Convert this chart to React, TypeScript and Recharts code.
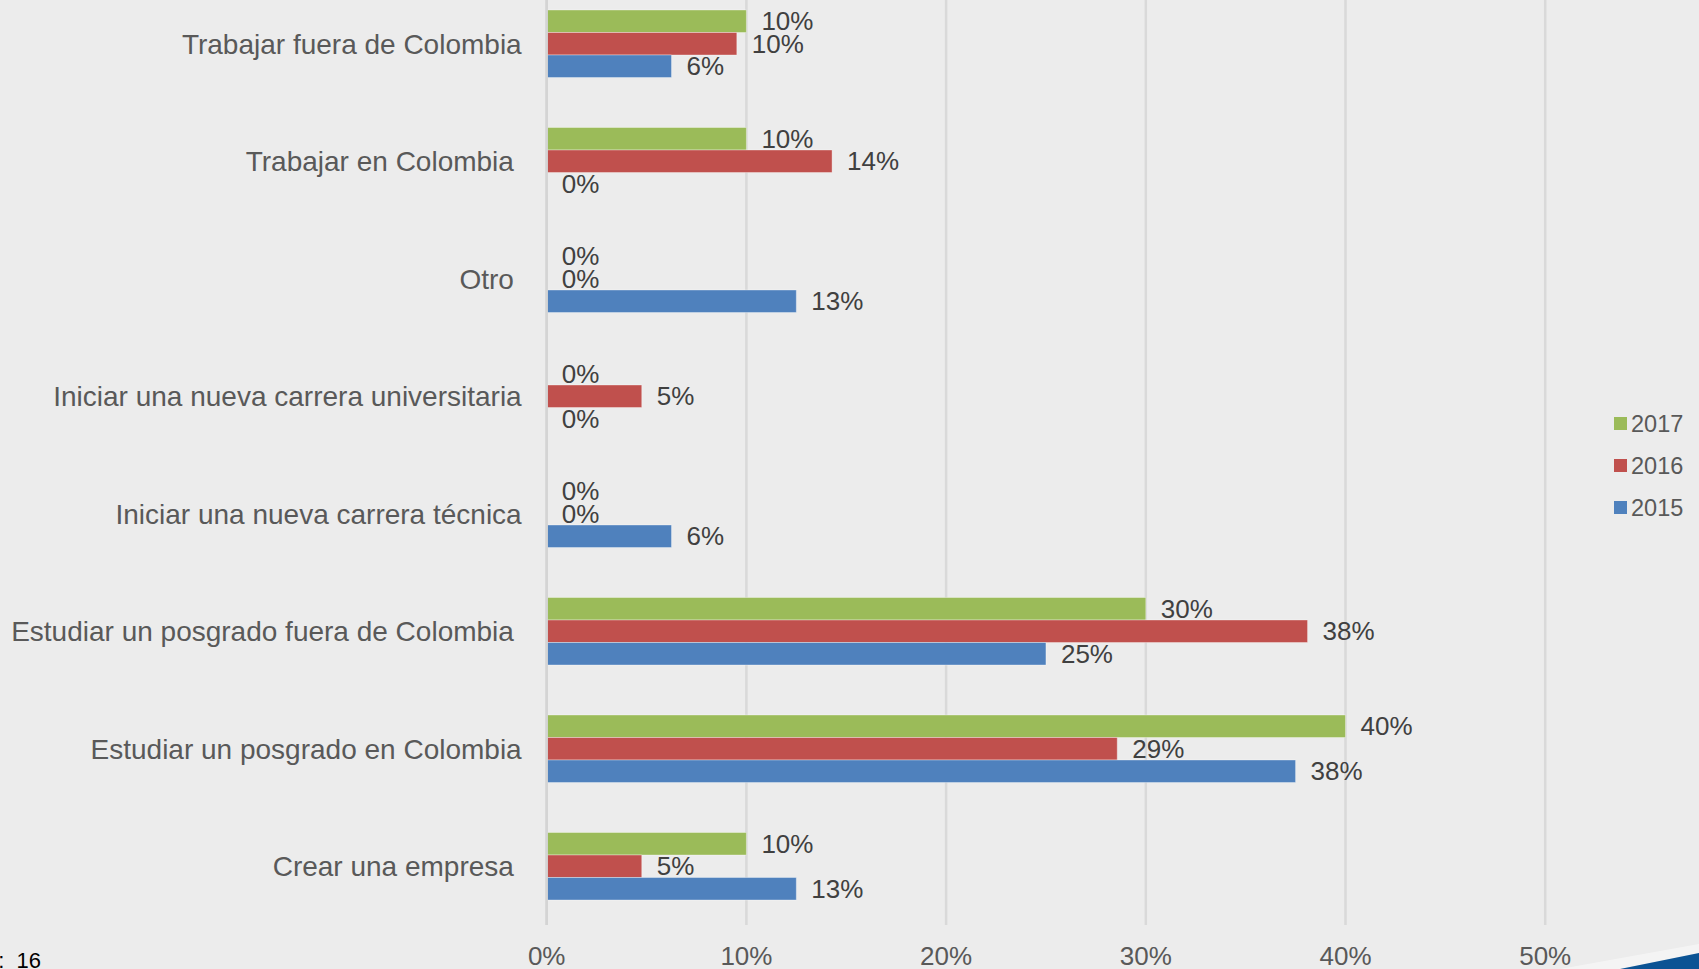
import React from 'react';
import { BarChart, Bar, XAxis, YAxis, CartesianGrid, LabelList, Legend } from 'recharts';

const categories = [
  'Trabajar fuera de Colombia',
  'Trabajar en Colombia\u00A0',
  'Otro\u00A0',
  'Iniciar una nueva carrera universitaria',
  'Iniciar una nueva carrera técnica',
  'Estudiar un posgrado fuera de Colombia\u00A0',
  'Estudiar un posgrado en Colombia',
  'Crear una empresa\u00A0',
];
const values2017 = [10, 10, 0, 0, 0, 30, 40, 10];
const values2016 = [9.52, 14.29, 0, 4.76, 0, 38.1, 28.57, 4.76];
const values2015 = [6.25, 0, 12.5, 0, 6.25, 25, 37.5, 12.5];
const xTicks = [0, 10, 20, 30, 40, 50];
const seriesNames = ['2017', '2016', '2015'];
const seriesColors = ['#9BBB59', '#C0504D', '#4F81BD'];
const footnote = ':\u00A0\u00A016';

const data = categories.map((name, i) => ({
  name,
  y2017: values2017[i],
  y2016: values2016[i],
  y2015: values2015[i],
}));

const FONT = '"Liberation Sans", Arial, Helvetica, sans-serif';

const fmt = (v: any) => `${Math.round(Number(v))}%`;

const renderLegend = () => (
  <div style={{ fontFamily: FONT }}>
    {seriesNames.map((n, i) => (
      <div key={n} style={{ height: 42, display: 'flex', alignItems: 'center' }}>
        <div style={{ width: 13, height: 13, background: seriesColors[i], marginRight: 4 }} />
        <span style={{ fontSize: 23.5, color: '#595959', lineHeight: '42px' }}>{n}</span>
      </div>
    ))}
  </div>
);

export default function App() {
  return (
    <div style={{ position: 'absolute', left: 0, top: 0, width: 1699, height: 969, overflow: 'hidden', background: '#ECECEC' }}>
      <div style={{ position: 'absolute', left: 0, top: -15 }}>
        <BarChart
          width={1699}
          height={984}
          data={data}
          layout="vertical"
          margin={{ top: 0, right: 153.8, left: 0, bottom: 0 }}
          barGap={0}
          barSize={22.5}
          style={{ fontFamily: FONT }}
        >
          <CartesianGrid horizontal={false} vertical={true} stroke="#D9D9D9" strokeWidth={2.5} />
          <XAxis
            type="number"
            domain={[0, 50]}
            ticks={xTicks}
            tickFormatter={(v: number) => `${v}%`}
            axisLine={false}
            tickLine={false}
            tickSize={0}
            tickMargin={21.5}
            height={44}
            tick={{ fontSize: 26, fill: '#595959', fontFamily: FONT }}
            interval={0}
          />
          <YAxis
            type="category"
            dataKey="name"
            width={546.7}
            axisLine={{ stroke: '#D4D4D4', strokeWidth: 2.5 }}
            tickLine={false}
            tickSize={0}
            tickMargin={25}
            interval={0}
            tick={{ fontSize: 28, fill: '#595959', fontFamily: FONT }}
          />
          <Legend
            layout="vertical"
            align="center"
            verticalAlign="middle"
            content={renderLegend}
            wrapperStyle={{ left: 1614, top: 417.5, width: 85, height: 130 }}
          />
          {['y2017', 'y2016', 'y2015'].map((k, i) => (
            <Bar
              key={k}
              dataKey={k}
              name={seriesNames[i]}
              fill={seriesColors[i]}
              stroke="#FFFFFF"
              strokeOpacity={0.35}
              strokeWidth={1}
              minPointSize={0.01}
              isAnimationActive={false}
            >
              <LabelList
                dataKey={k}
                position="right"
                offset={15}
                formatter={fmt}
                style={{ fontSize: 26, fill: '#404040', fontFamily: FONT }}
              />
            </Bar>
          ))}
        </BarChart>
      </div>
      <div
        style={{
          position: 'absolute',
          right: 1699 - 41,
          top: 948,
          fontFamily: FONT,
          fontSize: 22,
          color: '#000000',
          whiteSpace: 'nowrap',
          lineHeight: '26px',
        }}
      >
        {footnote}
      </div>
      <svg style={{ position: 'absolute', left: 0, top: 0 }} width={1699} height={969}>
        <polygon points="1560,969 1699,944 1699,953 1620,969" fill="#FFFFFF" opacity={0.45} />
        <polygon points="1620,969 1699,953 1699,969" fill="#0B5394" />
      </svg>
    </div>
  );
}
